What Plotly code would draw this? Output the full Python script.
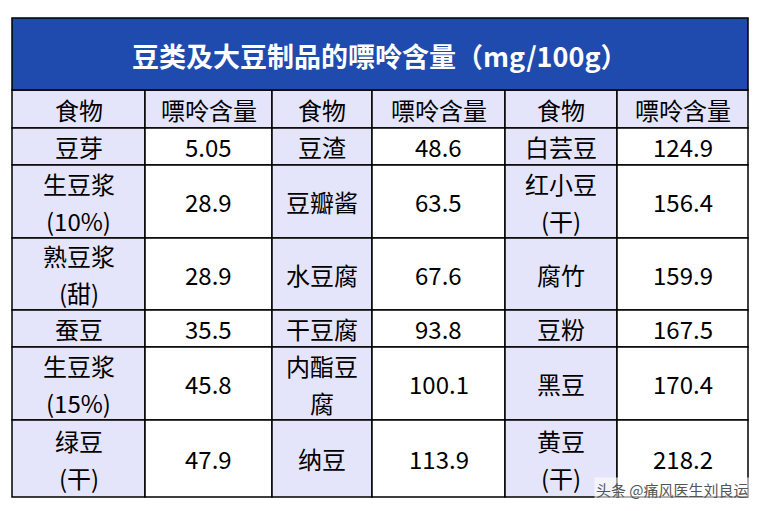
import plotly.graph_objects as go

title = "豆类及大豆制品的嘌呤含量（mg/100g）"
header = ["食物", "嘌呤含量", "食物", "嘌呤含量", "食物", "嘌呤含量"]
food1 = ["豆芽", "生豆浆\n(10%)", "熟豆浆\n(甜)", "蚕豆", "生豆浆\n(15%)", "绿豆\n(干)"]
val1 = ["5.05", "28.9", "28.9", "35.5", "45.8", "47.9"]
food2 = ["豆渣", "豆瓣酱", "水豆腐", "干豆腐", "内酯豆\n腐", "纳豆"]
val2 = ["48.6", "63.5", "67.6", "93.8", "100.1", "113.9"]
food3 = ["白芸豆", "红小豆\n(干)", "腐竹", "豆粉", "黑豆", "黄豆\n(干)"]
val3 = ["124.9", "156.4", "159.9", "167.5", "170.4", "218.2"]

xs = [12, 145, 272, 372, 505, 617, 748]
ys = [128, 165, 238, 310, 347, 420, 497]
top, title_bot, head_bot = 18, 90, 128

fig = go.Figure()
shapes, ann = [], []
font = "Noto Sans CJK SC, Microsoft YaHei, sans-serif"
lav = "#E4E4FA"
shapes.append(dict(type="rect", x0=xs[0], x1=xs[-1], y0=top, y1=title_bot, fillcolor="#1F4AAE", line=dict(color="black", width=1.5)))
ann.append(dict(x=(xs[0]+xs[-1])/2, y=(top+title_bot)/2+1, text="<b>"+title+"</b>", showarrow=False, font=dict(size=27, color="white", family=font)))

def cell(x0, x1, y0, y1, text, fill):
    shapes.append(dict(type="rect", x0=x0, x1=x1, y0=y0, y1=y1, fillcolor=fill, line=dict(color="black", width=1.5), layer="below"))
    lines = text.split("\n")
    n = len(lines)
    for i, l in enumerate(lines):
        yc = (y0+y1)/2 + (i-(n-1)/2)*37
        ann.append(dict(x=(x0+x1)/2, y=yc, text=l, showarrow=False, font=dict(size=24, color="black", family=font)))

for c, h in enumerate(header):
    cell(xs[c], xs[c+1], title_bot, head_bot, h, lav)
cols = [food1, val1, food2, val2, food3, val3]
for c, col in enumerate(cols):
    for r, t in enumerate(col):
        cell(xs[c], xs[c+1], ys[r], ys[r+1], t, lav if c % 2 == 0 else "white")

ann.append(dict(x=672, y=489, text="头条 @痛风医生刘良运", showarrow=False,
                font=dict(size=15, color="#555555", family=font), bgcolor="rgba(255,255,255,0.6)"))

fig.update_layout(width=759, height=511, margin=dict(l=0, r=0, t=0, b=0),
                  plot_bgcolor="white", paper_bgcolor="white", shapes=shapes, annotations=ann,
                  xaxis=dict(range=[8, 767], visible=False, fixedrange=True),
                  yaxis=dict(range=[519, 8], visible=False, fixedrange=True))
fig.write_html("out.html")
